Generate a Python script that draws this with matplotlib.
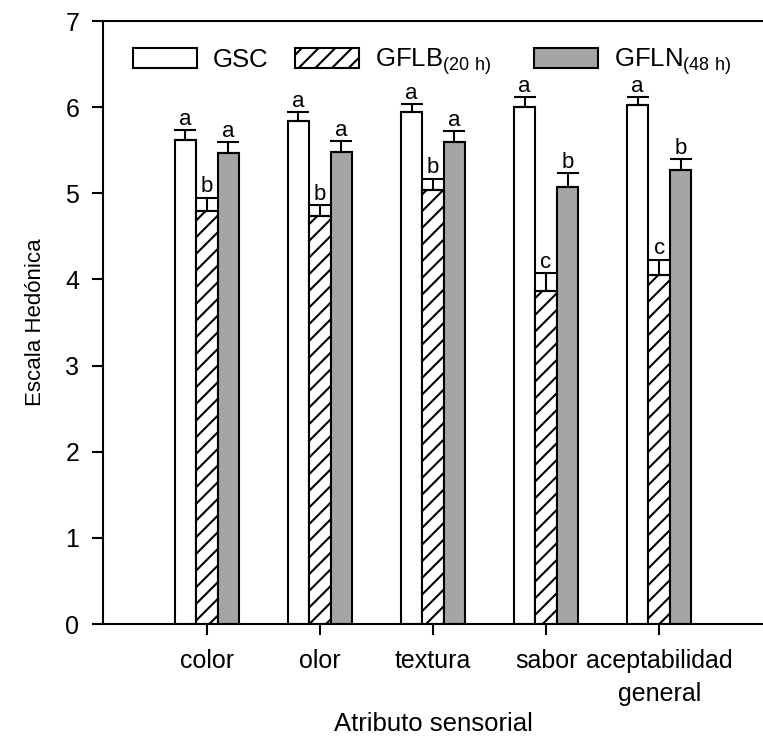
import matplotlib
matplotlib.use('Agg')
import matplotlib.pyplot as plt
import numpy as np

plt.rcParams['font.family'] = ['Liberation Sans', 'DejaVu Sans']
plt.rcParams['mathtext.default'] = 'regular'
plt.rcParams['hatch.linewidth'] = 1.5

atributos = ['color', 'olor', 'textura', 'sabor', 'aceptabilidad\ngeneral']
series = ['GSC', r'GFLB$_{(20\ h)}$   ', r'GFLN$_{(48\ h)}$']

gsc = [5.62, 5.84, 5.94, 6.00, 6.02]
gflb = [4.80, 4.74, 5.04, 3.87, 4.05]
gfln = [5.47, 5.48, 5.60, 5.07, 5.27]

gsc_err = [0.11, 0.10, 0.10, 0.12, 0.10]
gflb_err = [0.15, 0.12, 0.13, 0.20, 0.18]
gfln_err = [0.12, 0.13, 0.12, 0.16, 0.13]

gsc_let = ['a', 'a', 'a', 'a', 'a']
gflb_let = ['b', 'b', 'b', 'c', 'c']
gfln_let = ['a', 'a', 'a', 'b', 'b']

fig = plt.figure(figsize=(7.63, 7.38), dpi=100)
ax = fig.add_axes([103/763, 1 - 624/738, 1 - 103/763, (624 - 21)/738])

x = np.arange(len(atributos))
w = 0.19
estilos = [dict(color='white', hatch=None),
           dict(color='white', hatch='//'),
           dict(color='#a5a5a5', hatch=None)]
datos = [(gsc, gsc_err, gsc_let), (gflb, gflb_err, gflb_let), (gfln, gfln_err, gfln_let)]

for i, (vals, errs, lets) in enumerate(datos):
    pos = x + (i - 1)*w
    ax.bar(pos, vals, w, color=estilos[i]['color'], hatch=estilos[i]['hatch'],
           edgecolor='black', linewidth=1.5, label=series[i], zorder=2)
    ax.errorbar(pos, vals, yerr=[np.zeros(len(vals)), errs], fmt='none', ecolor='black',
                elinewidth=1.5, capsize=7.8, capthick=1.5, zorder=3)
    for p, v, e, l in zip(pos, vals, errs, lets):
        ax.text(p, v + e + 0.06, l, ha='center', va='baseline', fontsize=16)

ax.set_xlim(-0.918, 4.918)
ax.set_ylim(0, 7)
ax.set_xticks(x)
ax.set_xticklabels(atributos, fontsize=18, linespacing=1.5)
ax.set_yticks(range(8))
ax.tick_params(axis='y', labelsize=18, length=8, width=1.5, pad=9)
ax.tick_params(axis='x', length=8, width=1.5, pad=10)
for s in ['left', 'bottom', 'top']:
    ax.spines[s].set_linewidth(1.5)
ax.spines['right'].set_visible(False)

ax.set_xlabel('Atributo sensorial', fontsize=18.5, labelpad=4)
ax.set_ylabel('Escala Hedónica', fontsize=16, labelpad=14)

ax.legend(loc='upper left', bbox_to_anchor=(0.045, 0.958), ncol=3, frameon=False,
          fontsize=18.5, handlelength=2.5, handleheight=0.78, handletextpad=0.6,
          columnspacing=1.05, borderaxespad=0, borderpad=0)

fig.savefig('out.png', dpi=100)
